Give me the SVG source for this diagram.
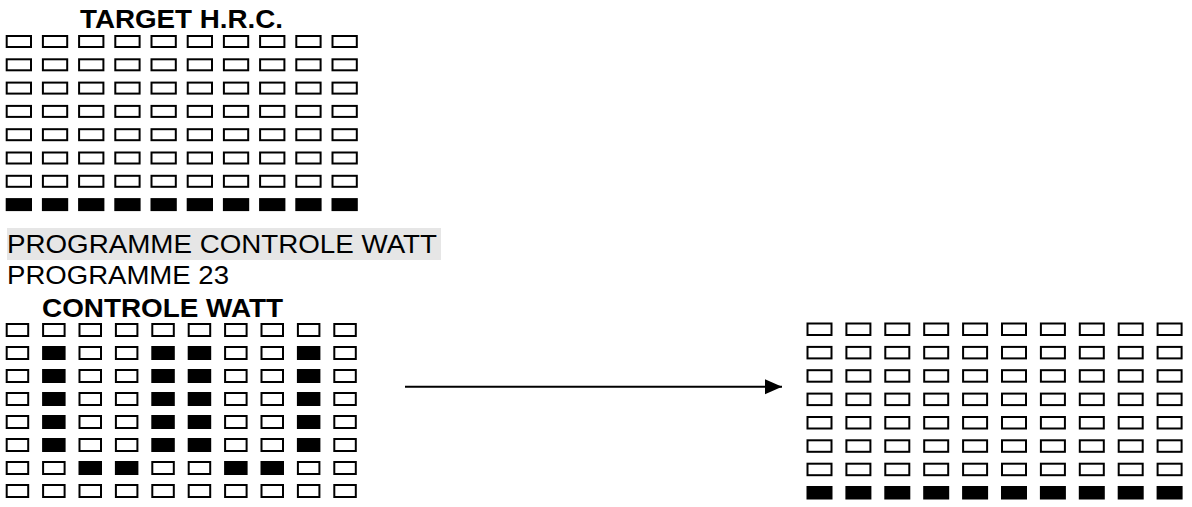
<svg xmlns="http://www.w3.org/2000/svg" xmlns:xlink="http://www.w3.org/1999/xlink" width="1192" height="507" viewBox="0 0 1192 507">
<style>
.t{font-family:"Liberation Sans",Arial,sans-serif;font-size:26px;fill:#000}
.b{font-weight:bold}
.o{fill:#fff;stroke:#000;stroke-width:2}
.f{fill:#000;stroke:#000;stroke-width:2}
</style>
<defs>
<rect id="a" width="24.3" height="11" class="o"/>
<rect id="af" width="24.3" height="11" class="f"/>
<rect id="c" width="21.5" height="12" class="o"/>
<rect id="cf" width="21.5" height="12" class="f"/>
<rect id="d" width="24" height="11.5" class="o"/>
<rect id="df" width="24" height="11.5" class="f"/>
<g id="ra"><use href="#a" x="6.7"/><use href="#a" x="42.9"/><use href="#a" x="79.1"/><use href="#a" x="115.3"/><use href="#a" x="151.5"/><use href="#a" x="187.7"/><use href="#a" x="223.9"/><use href="#a" x="260.1"/><use href="#a" x="296.3"/><use href="#a" x="332.5"/></g>
<g id="raf"><use href="#af" x="6.7"/><use href="#af" x="42.9"/><use href="#af" x="79.1"/><use href="#af" x="115.3"/><use href="#af" x="151.5"/><use href="#af" x="187.7"/><use href="#af" x="223.9"/><use href="#af" x="260.1"/><use href="#af" x="296.3"/><use href="#af" x="332.5"/></g>
<g id="rd"><use href="#d" x="807.5"/><use href="#d" x="846.4"/><use href="#d" x="885.3"/><use href="#d" x="924.2"/><use href="#d" x="963.1"/><use href="#d" x="1002"/><use href="#d" x="1040.9"/><use href="#d" x="1079.8"/><use href="#d" x="1118.7"/><use href="#d" x="1157.6"/></g>
<g id="rdf"><use href="#df" x="807.5"/><use href="#df" x="846.4"/><use href="#df" x="885.3"/><use href="#df" x="924.2"/><use href="#df" x="963.1"/><use href="#df" x="1002"/><use href="#df" x="1040.9"/><use href="#df" x="1079.8"/><use href="#df" x="1118.7"/><use href="#df" x="1157.6"/></g>
<g id="rc0"><use href="#c" x="6.7"/><use href="#c" x="43.1"/><use href="#c" x="79.5"/><use href="#c" x="115.9"/><use href="#c" x="152.3"/><use href="#c" x="188.7"/><use href="#c" x="225.1"/><use href="#c" x="261.5"/><use href="#c" x="297.9"/><use href="#c" x="334.3"/></g>
<g id="rc1"><use href="#c" x="6.7"/><use href="#cf" x="43.1"/><use href="#c" x="79.5"/><use href="#c" x="115.9"/><use href="#cf" x="152.3"/><use href="#cf" x="188.7"/><use href="#c" x="225.1"/><use href="#c" x="261.5"/><use href="#cf" x="297.9"/><use href="#c" x="334.3"/></g>
<g id="rc2"><use href="#c" x="6.7"/><use href="#c" x="43.1"/><use href="#cf" x="79.5"/><use href="#cf" x="115.9"/><use href="#c" x="152.3"/><use href="#c" x="188.7"/><use href="#cf" x="225.1"/><use href="#cf" x="261.5"/><use href="#c" x="297.9"/><use href="#c" x="334.3"/></g>
<marker id="arr" markerUnits="userSpaceOnUse" markerWidth="18" markerHeight="16" refX="17" refY="7.5" orient="auto"><path d="M0,0 L17,7.5 L0,15 Z" fill="#000"/></marker>
</defs>
<rect width="1192" height="507" fill="#fff"/>
<g id="target-hrc">
<text class="t b" x="80" y="28" textLength="203" lengthAdjust="spacingAndGlyphs">TARGET H.R.C.</text>
<use href="#ra" y="36"/><use href="#ra" y="59.3"/><use href="#ra" y="82.6"/><use href="#ra" y="105.9"/><use href="#ra" y="129.2"/><use href="#ra" y="152.5"/><use href="#ra" y="175.8"/><use href="#raf" y="199.1"/>
</g>
<g id="labels">
<rect x="7" y="228" width="434" height="32" fill="#e6e6e6"/>
<text class="t" x="7" y="253" textLength="430" lengthAdjust="spacingAndGlyphs">PROGRAMME CONTROLE WATT</text>
<text class="t" x="7" y="284" textLength="222" lengthAdjust="spacingAndGlyphs">PROGRAMME 23</text>
</g>
<g id="controle-watt">
<text class="t b" x="42" y="317" textLength="241" lengthAdjust="spacingAndGlyphs">CONTROLE WATT</text>
<use href="#rc0" y="324"/><use href="#rc1" y="347"/><use href="#rc1" y="370"/><use href="#rc1" y="393"/><use href="#rc1" y="416"/><use href="#rc1" y="439"/><use href="#rc2" y="462"/><use href="#rc0" y="485"/>
</g>
<g id="result">
<use href="#rd" y="323.5"/><use href="#rd" y="346.9"/><use href="#rd" y="370.2"/><use href="#rd" y="393.6"/><use href="#rd" y="417"/><use href="#rd" y="440.3"/><use href="#rd" y="463.7"/><use href="#rdf" y="487"/>
</g>
<g id="connectors">
<path d="M405,386.7 L782,386.7" stroke="#000" stroke-width="2" fill="none" marker-end="url(#arr)"/>
</g>
</svg>
